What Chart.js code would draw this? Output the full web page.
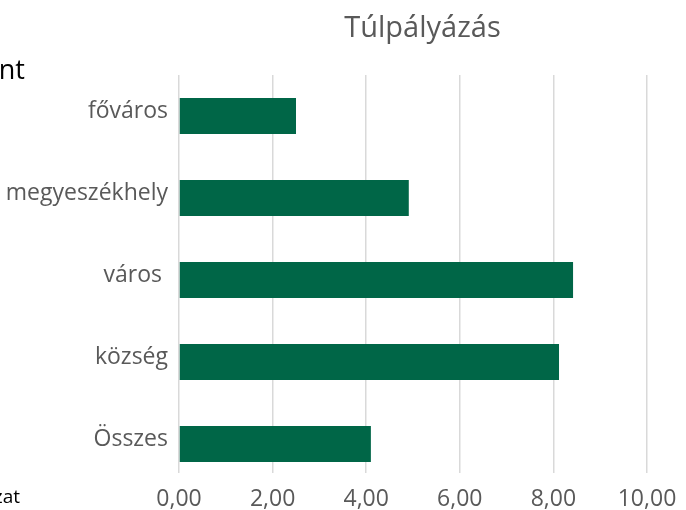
<!DOCTYPE html>
<html>
<head>
<meta charset="utf-8">
<script src="https://cdn.jsdelivr.net/npm/chart.js@4"></script>
<style>
  html, body { margin: 0; padding: 0; background: #ffffff; }
  #wrap { position: relative; width: 686px; height: 510px; overflow: hidden; }
  canvas { position: absolute; left: 0; top: 0; }
  .txt { position: absolute; white-space: nowrap; font-family: "Open Sans", sans-serif; }
  #title { left: 0; width: 845px; top: 6px; text-align: center; font-size: 29px; color: #595959; line-height: 40px; }
  #frag1 { right: 661px; top: 49px; font-size: 27px; color: #000; line-height: 40px; }
  #frag2 { right: 666px; top: 484px; font-size: 19px; color: #000; line-height: 24px; }
</style>
</head>
<body>
<div id="wrap">
  <canvas id="c" width="686" height="510"></canvas>
  <div class="txt" id="title">Túlpályázás</div>
  <div class="txt" id="frag1">nt</div>
  <div class="txt" id="frag2">zat</div>
</div>
<script>
const categories = ["főváros", "megyeszékhely", "város ", "község", "Összes"];
const values = [2.50, 4.91, 8.42, 8.12, 4.10];
const xTicks = [0, 2, 4, 6, 8, 10];

const gridMask = {
  id: 'gridMask',
  beforeDatasetsDraw(chart) {
    const a = chart.chartArea, ctx = chart.ctx;
    ctx.save();
    ctx.fillStyle = '#ffffff';
    ctx.fillRect(a.left - 2, a.bottom - 12, a.right - a.left + 4, 12);
    ctx.restore();
  }
};

new Chart(document.getElementById('c'), {
  type: 'bar',
  data: {
    labels: categories,
    datasets: [{
      data: values,
      backgroundColor: '#006647',
      borderWidth: 0,
      barPercentage: 0.44,
      categoryPercentage: 1.0
    }]
  },
  plugins: [gridMask],
  options: {
    indexAxis: 'y',
    responsive: false,
    animation: false,
    devicePixelRatio: 1,
    layout: { padding: { top: 75, right: 39, bottom: 0, left: 0 } },
    plugins: {
      legend: { display: false },
      title: { display: false },
      tooltip: { enabled: false }
    },
    scales: {
      x: {
        min: xTicks[0],
        max: xTicks[xTicks.length - 1],
        afterBuildTicks(scale) { scale.ticks = xTicks.map(v => ({ value: v })); },
        afterFit(scale) { scale.height = 25; },
        border: { display: false },
        grid: { color: '#d9d9d9', lineWidth: 1.5, drawTicks: false },
        ticks: {
          padding: 1,
          color: '#595959',
          font: { family: 'Open Sans', size: 23 },
          callback: v => Number(v).toFixed(2).replace('.', ',')
        }
      },
      y: {
        afterFit(scale) { scale.width = 179; },
        border: { display: false },
        grid: { display: false, drawTicks: false },
        ticks: {
          padding: 11,
          labelOffset: -5,
          color: '#595959',
          font: { family: 'Open Sans', size: 23 }
        }
      }
    }
  }
});
</script>
</body>
</html>
